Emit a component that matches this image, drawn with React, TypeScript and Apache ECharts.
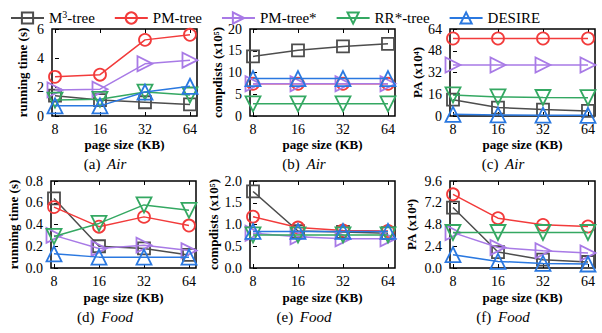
import React, { useEffect, useRef } from "react";
import * as echarts from "echarts";

const pageSizes = ["8", "16", "32", "64"];
const seriesNames = ["M3-tree", "PM-tree", "PM-tree*", "RR*-tree", "DESIRE"];

// (a) Air running time (s)
const airTimeM3 = [1.4, 1.1, 0.95, 0.8];
const airTimePM = [2.7, 2.85, 5.25, 5.6];
const airTimePMs = [1.8, 1.85, 3.6, 3.85];
const airTimeRR = [1.1, 1.15, 1.65, 1.45];
const airTimeDES = [0.7, 0.7, 1.65, 2.05];
// (b) Air compdists (x10^5)
const airCompM3 = [13.7, 15.1, 16.0, 16.6];
const airCompPM = [7.4, 7.4, 7.4, 7.4];
const airCompPMs = [7.4, 7.4, 7.4, 7.4];
const airCompRR = [2.8, 2.8, 2.8, 2.8];
const airCompDES = [8.6, 8.6, 8.6, 8.6];
// (c) Air PA (x10^4)
const airPaM3 = [12.0, 6.2, 4.7, 3.7];
const airPaPM = [57, 57, 57, 57];
const airPaPMs = [37.5, 37.5, 37.5, 37.5];
const airPaRR = [15.5, 14, 13.6, 13.5];
const airPaDES = [1.2, 0.8, 0.6, 0.5];
// (d) Food running time (s)
const foodTimeM3 = [0.64, 0.2, 0.18, 0.12];
const foodTimePM = [0.56, 0.38, 0.47, 0.39];
const foodTimePMs = [0.3, 0.18, 0.21, 0.16];
const foodTimeRR = [0.29, 0.41, 0.58, 0.53];
const foodTimeDES = [0.13, 0.1, 0.1, 0.1];
// (e) Food compdists (x10^5)
const foodCompM3 = [1.76, 0.85, 0.83, 0.8];
const foodCompPM = [1.18, 0.93, 0.86, 0.85];
const foodCompPMs = [0.8, 0.72, 0.67, 0.67];
const foodCompRR = [0.76, 0.76, 0.76, 0.76];
const foodCompDES = [0.84, 0.84, 0.84, 0.84];
// (f) Food PA (x10^4)
const foodPaM3 = [6.67, 1.76, 0.92, 0.66];
const foodPaPM = [8.13, 5.5, 4.76, 4.58];
const foodPaPMs = [3.9, 2.27, 1.9, 1.65];
const foodPaRR = [3.92, 3.92, 3.92, 3.92];
const foodPaDES = [1.47, 0.73, 0.5, 0.44];

const colors = ["#4d4d4d", "#f23b3b", "#a87ae6", "#34a862", "#2a78e0"];
const symbols = ["rect", "circle", "triangle", "triangle", "triangle"];
const rotates = [0, 0, -90, 180, 0];
const sizes = [12, 12, 15, 15, 15];

const FONT = "'Liberation Serif', 'DejaVu Serif', serif";

type Panel = {
  data: number[][];
  max: number;
  interval: number;
  yName: string;
  decimals: number;
  left: number;
  top: number;
  nameGap: number;
  caption: string;
  capX: number;
  capY: number;
};

const panels: Panel[] = [
  { data: [airTimeM3, airTimePM, airTimePMs, airTimeRR, airTimeDES], max: 6, interval: 2, yName: "running time (s)", decimals: 0, left: 52, top: 29, nameGap: 23, caption: "(a)", capX: 105, capY: 164 },
  { data: [airCompM3, airCompPM, airCompPMs, airCompRR, airCompDES], max: 20, interval: 5, yName: "compdists (x10⁵)", decimals: 0, left: 250, top: 29, nameGap: 26, caption: "(b)", capX: 304, capY: 164 },
  { data: [airPaM3, airPaPM, airPaPMs, airPaRR, airPaDES], max: 64, interval: 16, yName: "PA (x10⁴)", decimals: 0, left: 450, top: 29, nameGap: 26, caption: "(c)", capX: 503, capY: 164 },
  { data: [foodTimeM3, foodTimePM, foodTimePMs, foodTimeRR, foodTimeDES], max: 0.8, interval: 0.2, yName: "running time (s)", decimals: 1, left: 51, top: 181, nameGap: 31, caption: "(d)", capX: 105, capY: 317 },
  { data: [foodCompM3, foodCompPM, foodCompPMs, foodCompRR, foodCompDES], max: 2.0, interval: 0.5, yName: "compdists (x10⁵)", decimals: 1, left: 250, top: 181, nameGap: 30, caption: "(e)", capX: 304, capY: 317 },
  { data: [foodPaM3, foodPaPM, foodPaPMs, foodPaRR, foodPaDES], max: 9.6, interval: 2.4, yName: "PA (x10⁴)", decimals: 1, left: 450, top: 181, nameGap: 32, caption: "(f)", capX: 503, capY: 317 },
];
const captionWords = ["Air", "Air", "Air", "Food", "Food", "Food"];

export default function App() {
  const ref = useRef<HTMLDivElement>(null);
  useEffect(() => {
    if (!ref.current) return;
    const chart = echarts.init(ref.current, null, { renderer: "svg" });
    const grids: any[] = [];
    const xAxes: any[] = [];
    const yAxes: any[] = [];
    const series: any[] = [];
    const graphics: any[] = [];
    panels.forEach((p, i) => {
      grids.push({
        left: p.left,
        top: p.top,
        width: 145,
        height: 87,
        show: true,
        borderColor: "#000",
        borderWidth: 1.5,
        backgroundColor: "transparent",
      });
      xAxes.push({
        type: "value",
        gridIndex: i,
        min: -0.0667,
        max: 3.156,
        splitLine: { show: false },
        axisLine: { show: false },
        axisTick: { show: true, inside: true, length: 4, lineStyle: { color: "#000" }, customValues: [0, 1, 2, 3] },
        axisLabel: {
          customValues: [0, 1, 2, 3],
          formatter: (v: number) => pageSizes[Math.round(v)],
          fontFamily: FONT,
          fontSize: 14,
          color: "#000",
          margin: 6,
        },
        name: "page size (KB)",
        nameLocation: "middle",
        nameGap: i < 3 ? 22 : 23,
        nameTextStyle: { fontFamily: FONT, fontWeight: "bold", fontSize: 13, color: "#000" },
      });
      xAxes.push({
        type: "value",
        gridIndex: i,
        position: "top",
        min: -0.0667,
        max: 3.156,
        splitLine: { show: false },
        axisLine: { show: false },
        axisTick: { show: true, inside: true, length: 4, lineStyle: { color: "#000" }, customValues: [0, 1, 2, 3] },
        axisLabel: { show: false },
      });
      yAxes.push({
        type: "value",
        gridIndex: i,
        min: 0,
        max: p.max,
        interval: p.interval,
        splitLine: { show: false },
        axisLine: { show: false },
        axisTick: { show: true, inside: true, length: 4, lineStyle: { color: "#000" } },
        axisLabel: {
          formatter: (v: number) => v.toFixed(p.decimals),
          fontFamily: FONT,
          fontSize: 14,
          color: "#000",
          margin: 8,
        },
        name: p.yName,
        nameLocation: "middle",
        nameGap: p.nameGap,
        nameTextStyle: { fontFamily: FONT, fontWeight: "bold", fontSize: 13, color: "#000" },
      });
      p.data.forEach((vals, s) => {
        series.push({
          type: "line",
          name: seriesNames[s],
          xAxisIndex: i * 2,
          yAxisIndex: i,
          data: vals.map((v, k) => [k, v]),
          color: colors[s],
          symbol: symbols[s],
          symbolSize: sizes[s],
          symbolRotate: rotates[s],
          showSymbol: true,
          lineStyle: { color: colors[s], width: 1.5 },
          itemStyle: { color: "transparent", borderColor: colors[s], borderWidth: 1.8 },
          emphasis: { disabled: true },
          z: 2 + s,
        });
      });
      graphics.push({
        type: "text",
        x: p.capX,
        y: p.capY,
        style: {
          text: `{n|${p.caption}}  {i|${captionWords[i]}}`,
          align: "center",
          verticalAlign: "middle",
          rich: {
            n: { fontFamily: FONT, fontSize: 15, fill: "#000" },
            i: { fontFamily: FONT, fontSize: 15, fontStyle: "italic", fill: "#000" },
          },
        },
      });
    });
    chart.setOption({
      animation: false,
      backgroundColor: "#fff",
      legend: {
        top: 4,
        left: 5,
        itemWidth: 33,
        itemHeight: 14,
        itemGap: 19,
        data: seriesNames,
        formatter: (name: string) => (name === "M3-tree" ? "{n|M}{s|3}{n|-tree}" : `{n|${name}}`),
        textStyle: {
          fontFamily: FONT,
          fontSize: 15,
          color: "#000",
          rich: {
            n: { fontFamily: FONT, fontSize: 15, color: "#000" },
            s: { fontFamily: FONT, fontSize: 10, color: "#000", verticalAlign: "top", padding: [0, 0, 8, 0] },
          },
        },
      },
      grid: grids,
      xAxis: xAxes,
      yAxis: yAxes,
      series,
      graphic: graphics,
    });
    return () => chart.dispose();
  }, []);
  return <div ref={ref} style={{ width: 602, height: 333, position: "absolute", left: 0, top: 0 }} />;
}
